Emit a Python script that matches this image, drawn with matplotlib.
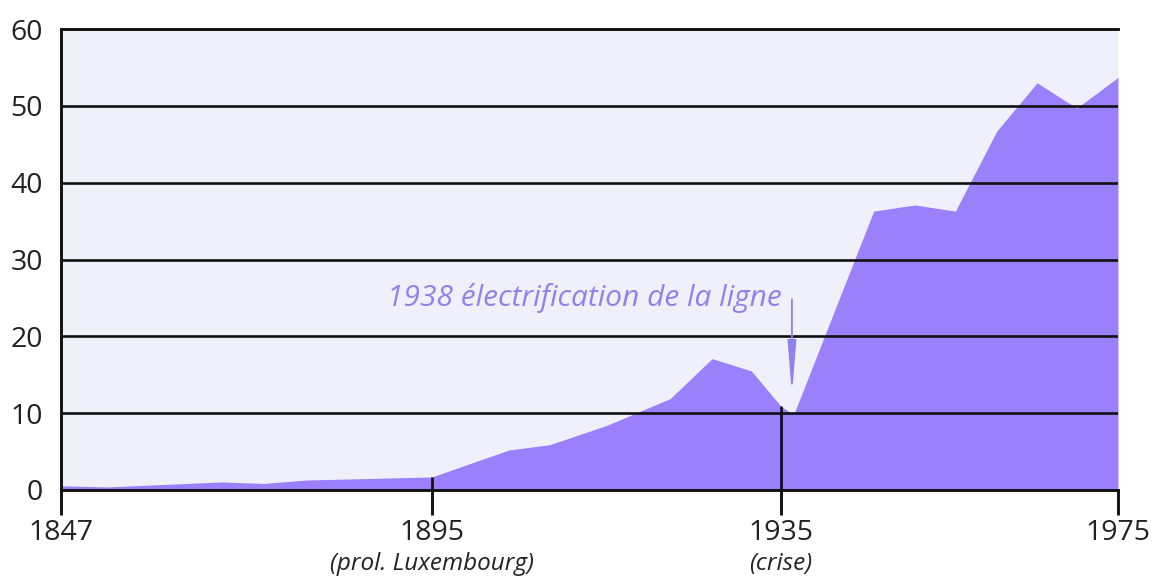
import numpy as np
import matplotlib
matplotlib.use("Agg")
import matplotlib.pyplot as plt

# ---- data ----
years = [1847, 1853, 1867.8, 1873.2, 1878.8, 1895, 1899, 1903.8, 1908.5, 1915,
         1922.3, 1927.1, 1931.6, 1935, 1936.5, 1940.8, 1946, 1950.9, 1955.7,
         1960.6, 1965.4, 1970.1, 1975]
values = [0.55, 0.4, 1.05, 0.85, 1.3, 1.7, 3.3, 5.2, 5.9, 8.4,
          11.9, 17.1, 15.5, 10.9, 9.8, 21.8, 36.3, 37.1, 36.3,
          46.7, 53.0, 49.7, 53.7]
tick_years = [1847, 1895, 1935, 1975]
tick_labels = ["1847", "1895", "1935", "1975"]
sub_labels = {1895: "(prol. Luxembourg)", 1935: "(crise)"}
y_ticks = [0, 10, 20, 30, 40, 50, 60]
annot_text = "1938 électrification de la ligne"
annot_year = 1936.3

# ---- non-uniform horizontal scale of the original drawing ----
scale_years = [1847, 1895, 1935, 1975]
scale_pos = [0, 371, 720, 1057]

def fwd(x):
    return np.interp(x, scale_years, scale_pos)

def inv(p):
    return np.interp(p, scale_pos, scale_years)

plt.rcParams['font.family'] = ['Open Sans', 'DejaVu Sans']

FILL = '#9b80fc'
BG = '#f0f0fb'
ANN = '#8f82ea'

fig = plt.figure(figsize=(11.57, 5.82), dpi=100)
ax = fig.add_axes([61 / 1157, (582 - 490) / 582, (1118 - 61) / 1157, (490 - 29) / 582])
ax.set_xscale('function', functions=(fwd, inv))
ax.set_facecolor(BG)

ax.fill_between(years, 0, values, color=FILL, linewidth=0, zorder=1)

ax.set_xlim(1847, 1975)
ax.set_ylim(0, 60)

# grid lines on top of the fill
for v in y_ticks[1:-1]:
    ax.axhline(v, color='#111111', lw=1.9, zorder=3)

ax.spines['right'].set_visible(False)
for s in ['left', 'bottom', 'top']:
    ax.spines[s].set_linewidth(2.1)
    ax.spines[s].set_color('#111111')
    ax.spines[s].set_zorder(4)

ax.set_yticks(y_ticks)
ax.set_yticklabels([str(v) for v in y_ticks])
ax.tick_params(axis='y', length=0, pad=13, labelsize=20.5, labelcolor='#222222')

ax.set_xticks(tick_years)
ax.set_xticklabels(tick_labels)
ax.xaxis.set_minor_locator(matplotlib.ticker.NullLocator())
ax.tick_params(axis='x', direction='out', length=18, width=2.1, color='#111111',
               pad=3, labelsize=20.5, labelcolor='#222222')

# vertical markers rising to the curve at the marked years
for yr in sub_labels:
    ax.vlines(yr, 0, np.interp(yr, years, values), color='#111111', lw=2.0, zorder=4)
    ax.annotate(sub_labels[yr], xy=(yr, 0), xycoords=('data', 'axes fraction'),
                xytext=(0, -45), textcoords='offset points', ha='center', va='top',
                fontsize=17.5, style='italic', color='#222222')

# annotation with arrow
ax.annotate('', xy=(annot_year, 12.4), xytext=(annot_year, 24.8),
            arrowprops=dict(arrowstyle='-|>,head_length=2.1,head_width=0.17',
                            mutation_scale=15, color=ANN, lw=1.3,
                            shrinkA=0, shrinkB=0), zorder=5)
ax.text(1935.1, 24.0, annot_text, ha='right', va='baseline', fontsize=21.5,
        style='italic', color=ANN, zorder=5)

fig.savefig('out.png', dpi=100, facecolor='white')
